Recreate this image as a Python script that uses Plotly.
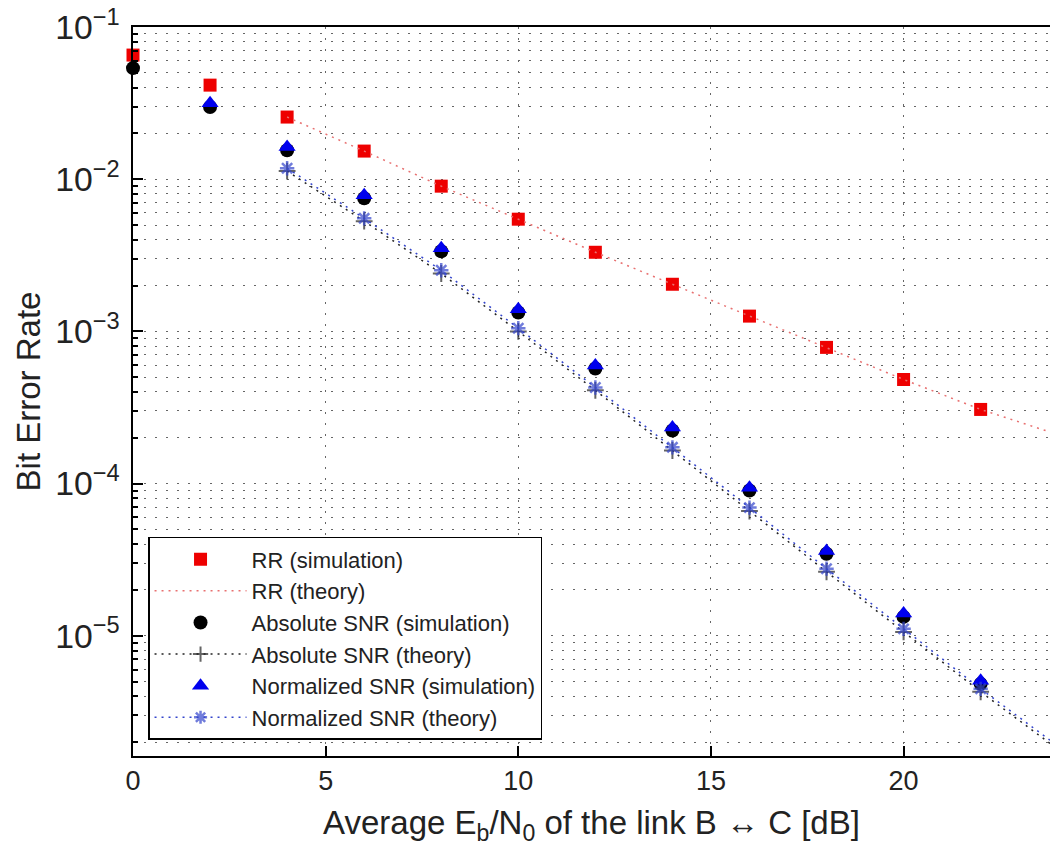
import plotly.graph_objects as go

# ---- data ----
snr_sim = [0, 2, 4, 6, 8, 10, 12, 14, 16, 18, 20, 22]
rr_sim = [0.0654, 0.0415, 0.0256, 0.0153, 0.0090, 0.00546, 0.00331, 0.00204,
          0.00126, 7.85e-4, 4.83e-4, 3.07e-4]
abs_sim = [0.0537, 0.0298, 0.0155, 0.0075, 0.00336, 0.00133, 5.7e-4, 2.23e-4,
           9.0e-5, 3.46e-5, 1.33e-5, 4.83e-6]
snr_norm_sim = [2, 4, 6, 8, 10, 12, 14, 16, 18, 20, 22]
norm_sim = [0.0316, 0.01625, 0.00785, 0.00352, 0.0014, 5.97e-4, 2.34e-4,
            9.4e-5, 3.6e-5, 1.4e-5, 5.06e-6]

snr_th = [4, 6, 8, 10, 12, 14, 16, 18, 20, 22, 24]
rr_th = [0.0256, 0.0153, 0.0090, 0.00546, 0.00331, 0.00204, 0.00126,
         7.85e-4, 4.83e-4, 3.07e-4, 2.1e-4]
abs_th = [0.0113, 0.0053, 0.0024, 1.0e-3, 4.1e-4, 1.65e-4, 6.6e-5, 2.63e-5,
          1.06e-5, 4.28e-6, 1.8e-6]
norm_th = [0.0118, 0.00553, 0.00252, 1.05e-3, 4.28e-4, 1.73e-4, 6.95e-5,
           2.76e-5, 1.11e-5, 4.48e-6, 1.89e-6]
th_marker_sizes = [12] * 10 + [0]

FONT = "Liberation Sans, Arial, sans-serif"
RED = "#ee0000"
BLUE = "#0000ee"

fig = go.Figure()

fig.add_trace(go.Scatter(
    x=snr_sim, y=rr_sim, mode="markers", name="RR (simulation)",
    marker=dict(symbol="square", size=13, color=RED), cliponaxis=False))
fig.add_trace(go.Scatter(
    x=snr_th, y=rr_th, mode="lines", name="RR (theory)",
    line=dict(color="#e87070", width=1.5, dash="2px,5px")))
fig.add_trace(go.Scatter(
    x=snr_sim, y=abs_sim, mode="markers", name="Absolute SNR (simulation)",
    marker=dict(symbol="circle", size=14, color="black"), cliponaxis=False))
fig.add_trace(go.Scatter(
    x=snr_th, y=abs_th, mode="lines+markers", name="Absolute SNR (theory)",
    line=dict(color="#222222", width=1.5, dash="2px,5px"),
    marker=dict(symbol="cross-thin-open", size=th_marker_sizes,
                line=dict(color="black", width=2))))
fig.add_trace(go.Scatter(
    x=snr_norm_sim, y=norm_sim, mode="markers", name="Normalized SNR (simulation)",
    marker=dict(symbol="triangle-up", size=15, color=BLUE), cliponaxis=False))
fig.add_trace(go.Scatter(
    x=snr_th, y=norm_th, mode="lines+markers", name="Normalized SNR (theory)",
    line=dict(color="#3344cc", width=1.5, dash="2px,5px"),
    marker=dict(symbol="asterisk-open", size=th_marker_sizes,
                line=dict(color=BLUE, width=2.5))))

grid_style = dict(showgrid=True, gridcolor="#666666", gridwidth=1, griddash="2px,9px")

fig.update_layout(
    width=1050, height=846,
    margin=dict(l=133, r=0, t=27, b=90),
    paper_bgcolor="white", plot_bgcolor="white",
    font=dict(family=FONT, color="#222222", size=27),
    showlegend=True,
    legend=dict(
        x=0.0164, y=0.022, xanchor="left", yanchor="bottom",
        bgcolor="white", bordercolor="black", borderwidth=1.5,
        font=dict(size=22, family=FONT, color="#222222"),
        itemwidth=92, tracegroupgap=0,
    ),
    xaxis=dict(
        range=[0, 23.8], tickvals=[0, 5, 10, 15, 20],
        ticks="inside", ticklen=10, tickwidth=1.5, tickcolor="black",
        showline=True, linecolor="black", linewidth=2, mirror=True,
        zeroline=False, automargin=False,
        tickfont=dict(size=27),
        title=dict(text="Average E<sub>b</sub>/N<sub>0</sub> of the link B \u2194 C [dB]",
                   font=dict(size=33), standoff=17),
        **grid_style,
    ),
    yaxis=dict(
        type="log", range=[-5.79, -1], dtick=1, exponentformat="power",
        ticks="inside", ticklen=10, tickwidth=1.5, tickcolor="black",
        showline=True, linecolor="black", linewidth=2, mirror=False,
        automargin=False,
        tickfont=dict(size=27),
        ticklabelstandoff=6,
        minor=dict(ticks="inside", ticklen=5, tickcolor="black",
                   showgrid=True, gridcolor="#666666", gridwidth=1, griddash="2px,9px"),
        title=dict(text="Bit Error Rate", font=dict(size=33), standoff=5),
        **grid_style,
    ),
)

fig.write_html(
    "out.html",
    config={"displayModeBar": False},
    post_script="document.body.style.margin='0px';document.body.style.overflow='hidden';",
)
